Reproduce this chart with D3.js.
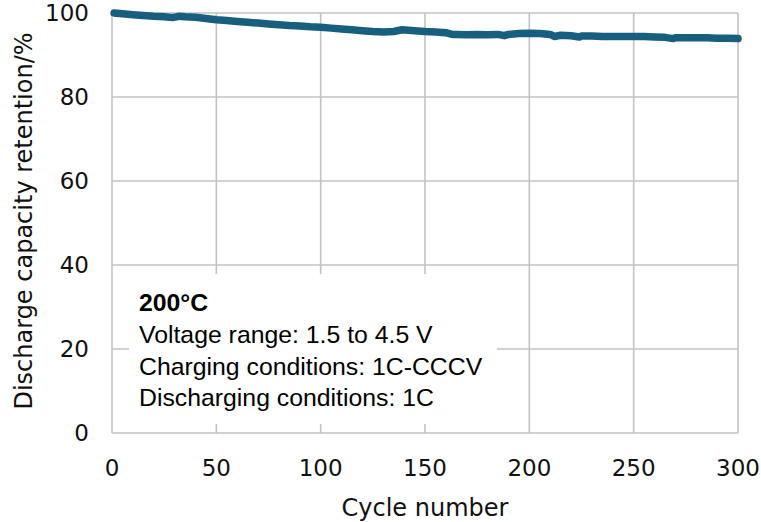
<!DOCTYPE html>
<html>
<head>
<meta charset="utf-8">
<script src="https://cdn.jsdelivr.net/npm/d3@7"></script>
<style>
  body { margin: 0; background: #fff; }
  .tick-label { font-family: "DejaVu Sans", Verdana, sans-serif; font-size: 23px; fill: #111; }
  .axis-title { font-family: "DejaVu Sans", Verdana, sans-serif; font-size: 24px; fill: #111; }
  .note { font-family: "Liberation Sans", Arial, sans-serif; font-size: 24.8px; fill: #000; }
</style>
</head>
<body>
<svg id="chart" width="761" height="522"></svg>
<script>
// cycle number / discharge capacity retention (%)
var cycles = [1, 5, 10, 15, 20, 25, 29, 32, 35, 40, 45, 50, 55, 60, 65, 70, 75, 80, 85, 90,
    95, 100, 105, 110, 115, 120, 125, 130, 135, 139, 142, 145, 150, 155, 160, 163, 165, 170,
    175, 180, 185, 188, 190, 195, 200, 205, 210, 212, 215, 220, 224, 225, 230, 235, 240, 245,
    250, 255, 260, 265, 269, 270, 275, 280, 285, 290, 295, 300];
var retention = [100.0, 99.8, 99.6, 99.4, 99.2, 99.1, 98.9, 99.2, 99.1, 99.0, 98.7, 98.4, 98.2,
    98.0, 97.8, 97.6, 97.4, 97.2, 97.0, 96.9, 96.7, 96.6, 96.4, 96.2, 96.0, 95.8, 95.6, 95.5,
    95.6, 96.0, 95.9, 95.8, 95.6, 95.5, 95.3, 94.9, 94.9, 94.8, 94.9, 94.8, 94.9, 94.6, 94.9,
    95.1, 95.2, 95.1, 94.9, 94.4, 94.7, 94.6, 94.3, 94.5, 94.5, 94.4, 94.4, 94.4, 94.4, 94.4,
    94.3, 94.2, 93.9, 94.1, 94.1, 94.1, 94.1, 94.0, 94.0, 93.9];

var xTicks = [0, 50, 100, 150, 200, 250, 300];
var yTicks = [0, 20, 40, 60, 80, 100];

var noteTitle = "200°C";
var noteLines = ["Voltage range: 1.5 to 4.5 V", "Charging conditions: 1C-CCCV", "Discharging conditions: 1C"];

var svg = d3.select("#chart");
var margin = { top: 13, right: 23, bottom: 89, left: 112 };
var width = +svg.attr("width") - margin.left - margin.right;
var height = +svg.attr("height") - margin.top - margin.bottom;

var g = svg.append("g")
    .attr("transform", "translate(" + margin.left + "," + margin.top + ")");

var x = d3.scaleLinear().domain([0, 300]).range([0, width]);
var y = d3.scaleLinear().domain([0, 100]).range([height, 0]);

var gridColor = "#c2c2c2";

// grid lines (the outer ones double as the frame)
g.selectAll(".hgrid")
    .data(yTicks)
    .enter()
    .append("line")
    .attr("class", "hgrid")
    .attr("x1", 0)
    .attr("x2", width)
    .attr("y1", function(d) { return y(d); })
    .attr("y2", function(d) { return y(d); })
    .attr("stroke", gridColor)
    .attr("stroke-width", 1.6);

g.selectAll(".vgrid")
    .data(xTicks)
    .enter()
    .append("line")
    .attr("class", "vgrid")
    .attr("x1", function(d) { return x(d); })
    .attr("x2", function(d) { return x(d); })
    .attr("y1", 0)
    .attr("y2", height)
    .attr("stroke", gridColor)
    .attr("stroke-width", 1.6);

// tick labels
g.selectAll(".ylab")
    .data(yTicks)
    .enter()
    .append("text")
    .attr("class", "tick-label")
    .attr("text-anchor", "end")
    .attr("x", -23)
    .attr("y", function(d) { return y(d); })
    .attr("dy", "0.36em")
    .text(function(d) { return d; });

g.selectAll(".xlab")
    .data(xTicks)
    .enter()
    .append("text")
    .attr("class", "tick-label")
    .attr("text-anchor", "middle")
    .attr("x", function(d) { return x(d); })
    .attr("y", height + 43)
    .text(function(d) { return d; });

// axis titles
svg.append("text")
    .attr("class", "axis-title")
    .attr("text-anchor", "middle")
    .attr("transform", "translate(32,221) rotate(-90)")
    .text("Discharge capacity retention/%");

svg.append("text")
    .attr("class", "axis-title")
    .attr("text-anchor", "middle")
    .attr("x", margin.left + width / 2)
    .attr("y", 516)
    .text("Cycle number");

// the data line
var pts = cycles.map(function(c, i) { return [c, retention[i]]; });
var line = d3.line()
    .x(function(d) { return x(d[0]); })
    .y(function(d) { return y(d[1]); });

g.append("path")
    .datum(pts)
    .attr("d", line)
    .attr("fill", "none")
    .attr("stroke", "#185f7f")
    .attr("stroke-width", 7.5)
    .attr("stroke-linecap", "round")
    .attr("stroke-linejoin", "round");

// annotation box sits over the grid
var note = svg.append("g");
note.append("rect")
    .attr("x", 129)
    .attr("y", 274)
    .attr("width", 368)
    .attr("height", 150)
    .attr("fill", "#fff");

note.append("text")
    .attr("class", "note")
    .attr("x", 139)
    .attr("y", 311)
    .style("font-weight", "bold")
    .text(noteTitle);

note.selectAll(".nline")
    .data(noteLines)
    .enter()
    .append("text")
    .attr("class", "note")
    .attr("x", 139)
    .attr("y", function(d, i) { return 343 + i * 31.6; })
    .text(function(d) { return d; });
</script>
</body>
</html>
